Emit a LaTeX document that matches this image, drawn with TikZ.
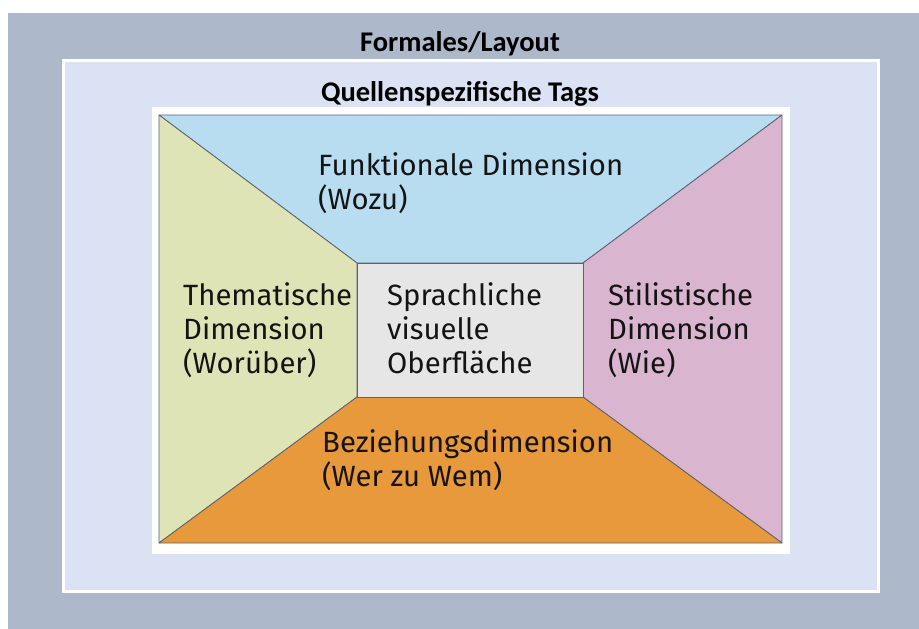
\documentclass[tikz,border=0pt]{standalone}
\usepackage{fontspec}
\setmainfont{Fira Sans}
\newfontfamily\titlefont{Carlito}
\usepackage{tikz}

\definecolor{framegray}{HTML}{ADB8CB}
\definecolor{tagblue}{HTML}{DAE2F3}
\definecolor{funkblue}{HTML}{B9DDF0}
\definecolor{themgreen}{HTML}{DEE4B6}
\definecolor{stilpink}{HTML}{D9B5CF}
\definecolor{bezorange}{HTML}{E8993B}
\definecolor{sprachgray}{HTML}{E6E6E6}
\definecolor{edgegray}{HTML}{5C6270}

\tikzset{
  dimtext/.style={anchor=north west, inner sep=0pt, align=left,
    font=\fontsize{29.3}{34.2}\selectfont, text=black!92},
  titletext/.style={inner sep=0pt, font=\titlefont\bfseries\fontsize{28.5}{30}\selectfont},
  facet/.style={draw=edgegray, line width=0.8pt, line join=round}
}

\begin{document}
\begin{tikzpicture}[x=1pt, y=-1pt]
  \useasboundingbox (0,0) rectangle (919,629);
  % Rahmen Formales/Layout
  \fill[framegray] (8,13) rectangle (919,629);
  \node[titletext, anchor=base] (formales) at (460,51) {Formales/Layout};

  % Quellenspezifische Tags
  \draw[tagblue, fill=tagblue, draw=white, line width=3pt] (63,60) rectangle (878,591);
  \node[titletext, anchor=base] (tags) at (460,101) {Quellenspezifische Tags};
  \fill[white] (152,107) rectangle (790,554);

  % Ecken
  \coordinate (ol) at (159,115);
  \coordinate (or) at (782,115);
  \coordinate (ur) at (782,543);
  \coordinate (ul) at (159,543);
  \coordinate (iol) at (357,263);
  \coordinate (ior) at (583,263);
  \coordinate (iur) at (583,397);
  \coordinate (iul) at (357,397);

  % Flaechen
  \filldraw[facet, fill=funkblue] (ol) -- (or) -- (ior) -- (iol) -- cycle;
  \filldraw[facet, fill=themgreen] (ol) -- (iol) -- (iul) -- (ul) -- cycle;
  \filldraw[facet, fill=stilpink] (or) -- (ur) -- (iur) -- (ior) -- cycle;
  \filldraw[facet, fill=bezorange] (ul) -- (iul) -- (iur) -- (ur) -- cycle;
  \filldraw[facet, fill=sprachgray] (iol) rectangle (iur);

  % Beschriftung
  \node[dimtext] (funk) at (318,152) {Funktionale Dimension\\(Wozu)};
  \node[dimtext] (them) at (183,282) {Thematische\\Dimension\\(Worüber)};
  \node[dimtext] (sprach) at (387,282) {Sprachliche\\visuelle\\Oberfläche};
  \node[dimtext] (stil) at (608,282) {Stilistische\\Dimension\\(Wie)};
  \node[dimtext] (bez) at (322,429) {Beziehungsdimension\\(Wer zu Wem)};
\end{tikzpicture}
\end{document}
